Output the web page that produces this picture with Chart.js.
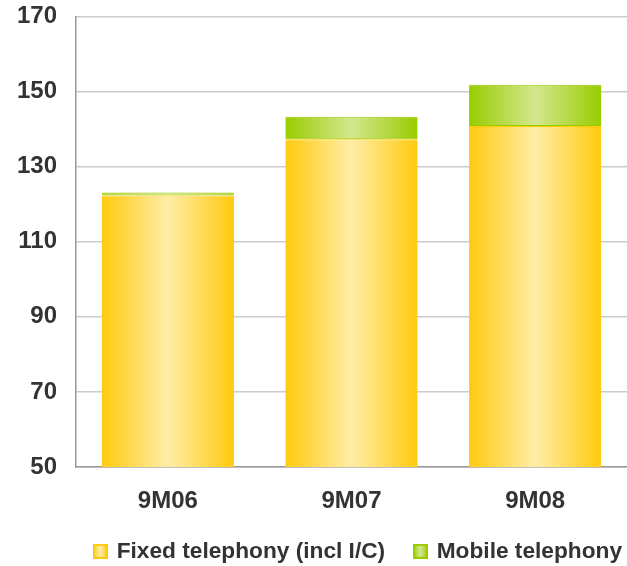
<!DOCTYPE html>
<html>
<head>
<meta charset="utf-8">
<script src="https://cdn.jsdelivr.net/npm/chart.js@4/dist/chart.umd.min.js"></script>
<style>
	html, body { margin: 0; padding: 0; background: #fff; }
	#wrap { width: 627px; height: 566px; }
</style>
</head>
<body>
<div id="wrap"><canvas id="barChart"></canvas></div>
<script>

const categories = ['9M06', '9M07', '9M08'];
const fixedValues = [122.3, 137.3, 140.8];
const mobileValues = [0.8, 6.0, 11.0];
const seriesNames = ['Fixed telephony (incl I/C)', 'Mobile telephony'];

const BAR_PCT = 0.72;
const FONT = '"Liberation Sans", Arial, sans-serif';

const yellowEdge = '#FFCA0E';
const yellowMid = '#FFEDA8';
const greenEdge = '#99CC00';
const greenMid = '#D4E78F';

// horizontal gradient across each bar
const barGradient = (edge, mid) => ctx => {
	const chart = ctx.chart;
	const xs = chart.scales.x;
	if (!chart.chartArea || !xs || ctx.type !== 'data') {
		return edge;
	}
	const cx = xs.getPixelForValue(ctx.dataIndex);
	const w = (xs.width / categories.length) * BAR_PCT;
	const g = chart.ctx.createLinearGradient(cx - w / 2, 0, cx + w / 2, 0);
	g.addColorStop(0, edge);
	g.addColorStop(0.5, mid);
	g.addColorStop(1, edge);
	return g;
};

const legendBox = (edge, mid) => {
	const c = document.createElement('canvas');
	c.width = 15;
	c.height = 15;
	const x = c.getContext('2d');
	const g = x.createLinearGradient(0, 0, 15, 0);
	g.addColorStop(0, edge);
	g.addColorStop(0.5, mid);
	g.addColorStop(1, edge);
	x.fillStyle = g;
	x.fillRect(0, 0, 15, 15);
	x.strokeStyle = edge;
	x.lineWidth = 2;
	x.strokeRect(1, 1, 13, 13);
	return c;
};

const legendImages = [legendBox(yellowEdge, yellowMid), legendBox(greenEdge, greenMid)];
// trailing spaces only widen the gap between the two legend items
const legendTexts = [seriesNames[0] + '    ', seriesNames[1]];

const chart = new Chart(document.getElementById('barChart').getContext('2d'), {
	type: 'bar',
	data: {
		labels: categories,
		datasets: [
			{
				label: seriesNames[0],
				data: fixedValues,
				backgroundColor: barGradient(yellowEdge, yellowMid),
				borderColor: '#FFCC00',
				borderWidth: { top: 1, left: 0, right: 0, bottom: 0 },
				borderSkipped: false
			},
			{
				label: seriesNames[1],
				data: mobileValues,
				backgroundColor: barGradient(greenEdge, greenMid),
				borderColor: '#99CC00',
				borderWidth: { top: 1, left: 0, right: 0, bottom: 1 },
				borderSkipped: false
			}
		]
	},
	options: {
		responsive: true,
		maintainAspectRatio: false,
		animation: false,
		devicePixelRatio: 1,
		datasets: {
			bar: {
				categoryPercentage: 1,
				barPercentage: BAR_PCT
			}
		},
		layout: {
			padding: { top: 0, left: 2, right: 0, bottom: 0 }
		},
		scales: {
			x: {
				stacked: true,
				afterFit: s => { s.height = 68; },
				grid: { display: false, drawTicks: false },
				border: { color: '#999999', width: 1.5 },
				ticks: {
					color: '#333333',
					padding: 19.5,
					font: { family: FONT, size: 24, weight: 'bold' }
				}
			},
			y: {
				stacked: true,
				min: 50,
				max: 170,
				afterFit: s => { s.width = 74; },
				grid: {
					color: '#CCCCCC',
					lineWidth: 1.5,
					drawTicks: true,
					tickLength: 17,
					tickColor: 'rgba(0,0,0,0)'
				},
				border: { color: '#999999', width: 1.5 },
				ticks: {
					stepSize: 20,
					color: '#333333',
					padding: 2,
					font: { family: FONT, size: 24, weight: 'bold' }
				}
			}
		},
		plugins: {
			tooltip: { enabled: false },
			legend: {
				position: 'bottom',
				align: 'end',
				maxHeight: 31,
				labels: {
					usePointStyle: true,
					pointStyleWidth: 10,
					boxHeight: 15,
					color: '#333333',
					padding: 5,
					font: { family: FONT, size: 22.7, weight: 'bold' },
					generateLabels: ch => ch.data.datasets.map((ds, i) => ({
						text: legendTexts[i],
						pointStyle: legendImages[i],
						fillStyle: 'transparent',
						strokeStyle: 'transparent',
						lineWidth: 0,
						fontColor: '#333333',
						hidden: false,
						datasetIndex: i
					}))
				}
			}
		}
	}
});

</script>
</body>
</html>
